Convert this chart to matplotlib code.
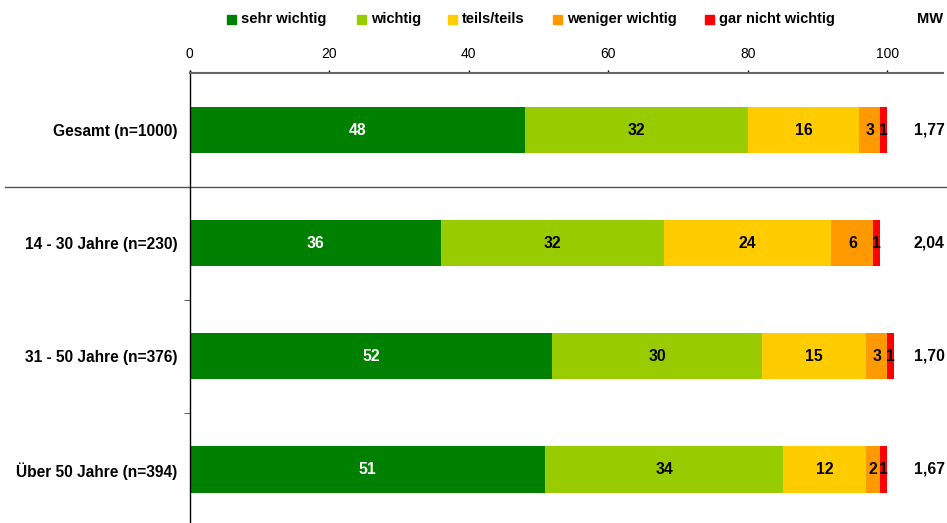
import numpy as np
import matplotlib.pyplot as plt
import matplotlib.transforms as mtransforms
from matplotlib.patches import Rectangle

plt.rcParams['font.family'] = ['Liberation Sans', 'DejaVu Sans']

# Daten
kategorien = ['Gesamt (n=1000)', '14 - 30 Jahre (n=230)',
              '31 - 50 Jahre (n=376)', 'Über 50 Jahre (n=394)']
serien = ['sehr wichtig', 'wichtig', 'teils/teils',
          'weniger wichtig', 'gar nicht wichtig']
sehr_wichtig = [48, 36, 52, 51]
wichtig = [32, 32, 30, 34]
teils_teils = [16, 24, 15, 12]
weniger_wichtig = [3, 6, 3, 2]
gar_nicht_wichtig = [1, 1, 1, 1]
mittelwerte = ['1,77', '2,04', '1,70', '1,67']

farben = ['#008000', '#99CC00', '#FFCC00', '#FF9900', '#FF0000']
textfarben = ['white', 'black', 'black', 'black', 'black']

werte = np.array([sehr_wichtig, wichtig, teils_teils,
                  weniger_wichtig, gar_nicht_wichtig])

fig = plt.figure(figsize=(9.47, 5.23), dpi=100)
ax = fig.add_axes([0.2003, -0.0057, 0.7955, 0.8652])

y = np.arange(len(kategorien))
links = np.zeros(len(kategorien))
for i in range(len(serien)):
    bars = ax.barh(y, werte[i], left=links, height=0.41,
                   color=farben[i], edgecolor='none')
    for j, b in enumerate(bars):
        ax.text(links[j] + werte[i][j] / 2, y[j], str(werte[i][j]),
                ha='center', va='center', fontsize=11.3,
                fontweight='bold', color=textfarben[i])
    links = links + werte[i]

for j in range(len(kategorien)):
    ax.text(106.0, y[j], mittelwerte[j], ha='center', va='center',
            fontsize=11.3, fontweight='bold', clip_on=False)

ax.set_xlim(0, 108)
ax.set_ylim(3.5, -0.5)

ax.xaxis.tick_top()
ax.set_xticks([0, 20, 40, 60, 80, 100])
ax.tick_params(axis='x', direction='out', length=2.5, width=1,
               labelsize=10, pad=6.5, color='black')

ax.set_yticks(y)
ax.set_yticklabels(kategorien, fontsize=11.2, fontweight='bold')
ax.set_yticks([0.5, 1.5, 2.5], minor=True)
ax.tick_params(axis='y', which='major', length=0, pad=9)
ax.tick_params(axis='y', which='minor', length=4, direction='out',
               color='#444444')

for s in ['right', 'bottom']:
    ax.spines[s].set_visible(False)
ax.spines['top'].set_color('#666666')
ax.spines['top'].set_linewidth(1.5)
ax.spines['left'].set_color('black')
ax.spines['left'].set_linewidth(1)
ax.spines['left'].set_bounds(3.5, -0.52)

# Trennlinie
trans = mtransforms.blended_transform_factory(fig.transFigure, ax.transData)
ax.plot([5 / 947, 1.0], [0.5, 0.5], color='#555555', lw=1,
        transform=trans, clip_on=False)

# Legende
leg_x = [227, 357, 448, 553, 705]
for i, name in enumerate(serien):
    fig.patches.append(Rectangle(((leg_x[i]) / 947, 1 - 23.5 / 523),
                                 9 / 947, 9 / 523, color=farben[i],
                                 transform=fig.transFigure))
    fig.text((leg_x[i] + 14) / 947, 1 - 19 / 523, name,
             ha='left', va='center', fontsize=10.5, fontweight='bold')
fig.text(930 / 947, 1 - 19 / 523, 'MW', ha='center', va='center',
         fontsize=10.5, fontweight='bold')

plt.savefig('out.png', dpi=100)
